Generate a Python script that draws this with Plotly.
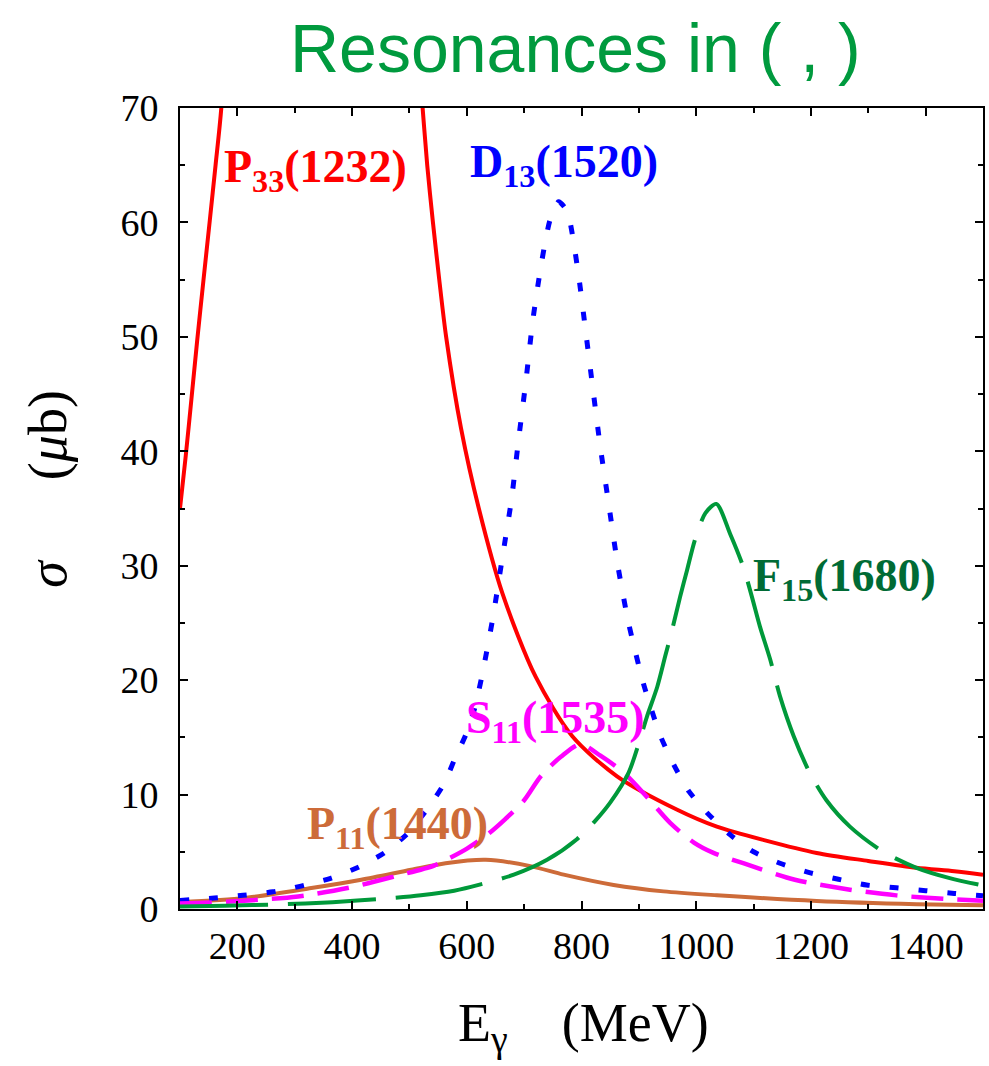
import plotly.graph_objects as go

# ---- data ----
P33_E = [100, 110, 120, 130, 141, 152, 162, 172, 190, 250, 340, 450, 500, 523, 531, 541, 552, 564, 590, 621, 662, 720, 784, 862, 966, 1036, 1120, 1210, 1300, 1384, 1450, 1500]
P33_S = [35.0, 39.6, 44.6, 49.7, 55.0, 60.2, 65.0, 70.0, 85, 150, 200, 120, 85, 70.0, 65.0, 60.0, 55.0, 50.0, 42.0, 35.0, 27.6, 20.3, 15.1, 11.6, 8.7, 7.2, 6.0, 4.9, 4.2, 3.6, 3.3, 3.0]

D13_E = [100, 160, 210, 262, 311, 364, 413, 456, 497, 535, 561, 578, 598, 613, 627, 646, 662, 678, 690, 703, 715, 730, 745, 760, 775, 794, 807, 820, 833, 848, 863, 882, 908, 937, 961, 987, 1019, 1059, 1100, 1146, 1196, 1248, 1297, 1349, 1400, 1450, 1500]
D13_S = [0.75, 0.96, 1.2, 1.5, 2.0, 2.7, 3.7, 4.9, 6.6, 9.0, 11.0, 13.0, 15.2, 17.4, 20.5, 25.6, 30.7, 35.8, 40.9, 46.1, 51.4, 56.4, 60.2, 61.8, 61.0, 55.7, 50.6, 45.4, 40.3, 35.2, 30.1, 25.0, 19.7, 15.2, 12.6, 10.3, 8.4, 6.5, 5.0, 4.0, 3.2, 2.6, 2.1, 1.85, 1.6, 1.36, 1.16]

S11_E = [100, 132, 219, 306, 392, 474, 543, 572, 601, 636, 668, 700, 729, 764, 798, 833, 874, 914, 955, 996, 1030, 1082, 1172, 1268, 1349, 1430, 1500]
S11_S = [0.48, 0.52, 0.75, 1.1, 1.83, 2.85, 3.8, 4.5, 5.3, 6.5, 7.9, 9.5, 11.6, 13.3, 14.4, 13.4, 11.9, 9.8, 7.5, 5.8, 4.9, 4.0, 2.56, 1.69, 1.19, 0.9, 0.72]

F15_E = [100, 178, 271, 366, 456, 520, 578, 624, 682, 740, 792, 822, 850, 882, 900, 914, 932, 946, 958, 972, 984, 998, 1016, 1035, 1059, 1082, 1097, 1111, 1129, 1146, 1170, 1198, 1227, 1268, 1326, 1384, 1442, 1500]
F15_S = [0.22, 0.29, 0.4, 0.6, 0.9, 1.2, 1.6, 2.15, 3.0, 4.3, 6.1, 7.6, 9.3, 11.9, 14.5, 16.8, 19.4, 22.1, 24.4, 27.3, 29.6, 32.3, 34.6, 35.4, 32.8, 29.9, 27.3, 24.7, 21.8, 18.6, 15.1, 11.9, 9.5, 7.2, 5.0, 3.6, 2.7, 2.05]

P11_E = [100, 213, 329, 416, 503, 563, 633, 711, 769, 856, 943, 1036, 1210, 1384, 1500]
P11_S = [0.6, 0.96, 1.83, 2.56, 3.43, 4.0, 4.3, 3.75, 3.0, 2.1, 1.54, 1.2, 0.7, 0.42, 0.32]

X_TICKS = [200, 400, 600, 800, 1000, 1200, 1400]
Y_TICKS = [0, 10, 20, 30, 40, 50, 60, 70]

LABELS = [
    ("<b>P<sub>33</sub>(1232)</b>", 337, 64.6, "#ff0000"),
    ("<b>D<sub>13</sub>(1520)</b>", 770, 65.0, "#0000ff"),
    ("<b>S<sub>11</sub>(1535)</b>", 755, 16.4, "#ff00ff"),
    ("<b>P<sub>11</sub>(1440)</b>", 479, 7.2, "#cd6b39"),
    ("<b>F<sub>15</sub>(1680)</b>", 1258, 28.8, "#006b35"),
]

SERIF = "Liberation Serif"

fig = go.Figure()
fig.add_trace(go.Scatter(x=P33_E, y=P33_S, mode="lines",
                         line=dict(color="#ff0000", width=4, shape="spline", smoothing=0.8)))
fig.add_trace(go.Scatter(x=P11_E, y=P11_S, mode="lines",
                         line=dict(color="#cd6b39", width=4, shape="spline", smoothing=0.8)))
fig.add_trace(go.Scatter(x=D13_E, y=D13_S, mode="lines",
                         line=dict(color="#0000ff", width=5, dash="9px,20px", shape="spline", smoothing=0.6)))
fig.add_trace(go.Scatter(x=S11_E, y=S11_S, mode="lines",
                         line=dict(color="#ff00ff", width=4.5, dash="32px,14px", shape="spline", smoothing=0.8)))
fig.add_trace(go.Scatter(x=F15_E, y=F15_S, mode="lines",
                         line=dict(color="#00993a", width=4, dash="88px,20px", shape="spline", smoothing=0.8)))

for txt, x, y, col in LABELS:
    fig.add_annotation(x=x, y=y, xref="x", yref="y", text=txt, showarrow=False,
                       font=dict(family=SERIF, size=46, color=col),
                       xanchor="center", yanchor="middle")

axis_common = dict(
    showline=True, linecolor="black", linewidth=2, mirror="ticks",
    ticks="inside", ticklen=8, tickwidth=2, tickcolor="black",
    showgrid=False, zeroline=False,
    tickfont=dict(family=SERIF, size=38, color="black"),
)

fig.update_xaxes(range=[100, 1500], tickvals=X_TICKS, ticktext=[str(v) for v in X_TICKS],
                 minor=dict(ticks="inside", ticklen=5, tickwidth=2, tickcolor="black", dtick=100, tick0=0, showgrid=False),
                 ticklabelstandoff=2, **axis_common)
fig.update_yaxes(range=[0, 70], tickvals=Y_TICKS, ticktext=[str(v) for v in Y_TICKS],
                 minor=dict(ticks="inside", ticklen=5, tickwidth=2, tickcolor="black", dtick=5, tick0=0, showgrid=False),
                 ticklabelstandoff=12, **axis_common)

# title
fig.add_annotation(x=0.492, y=1.075, xref="paper", yref="paper", text="Resonances in ( , )",
                   showarrow=False, xanchor="center", yanchor="middle",
                   font=dict(family="Liberation Sans", size=68, color="#009a3e"))
# y-axis title
fig.add_annotation(x=-0.164, y=0.525, xref="paper", yref="paper",
                   text="<i>σ</i>&nbsp;&nbsp;&nbsp;&nbsp;&nbsp;&nbsp;(<i>μ</i>b)",
                   showarrow=False, textangle=-90, xanchor="center", yanchor="middle",
                   font=dict(family=SERIF, size=54, color="black"))
# x-axis title
fig.add_annotation(x=0.502, y=-0.147, xref="paper", yref="paper",
                   text="E<sub>γ</sub>&nbsp;&nbsp;&nbsp;&nbsp;(MeV)",
                   showarrow=False, xanchor="center", yanchor="middle",
                   font=dict(family=SERIF, size=54, color="black"))

fig.update_layout(width=989, height=1066, showlegend=False,
                  margin=dict(l=180, r=4, t=108, b=157),
                  plot_bgcolor="white", paper_bgcolor="white")

fig.write_html("out.html")
